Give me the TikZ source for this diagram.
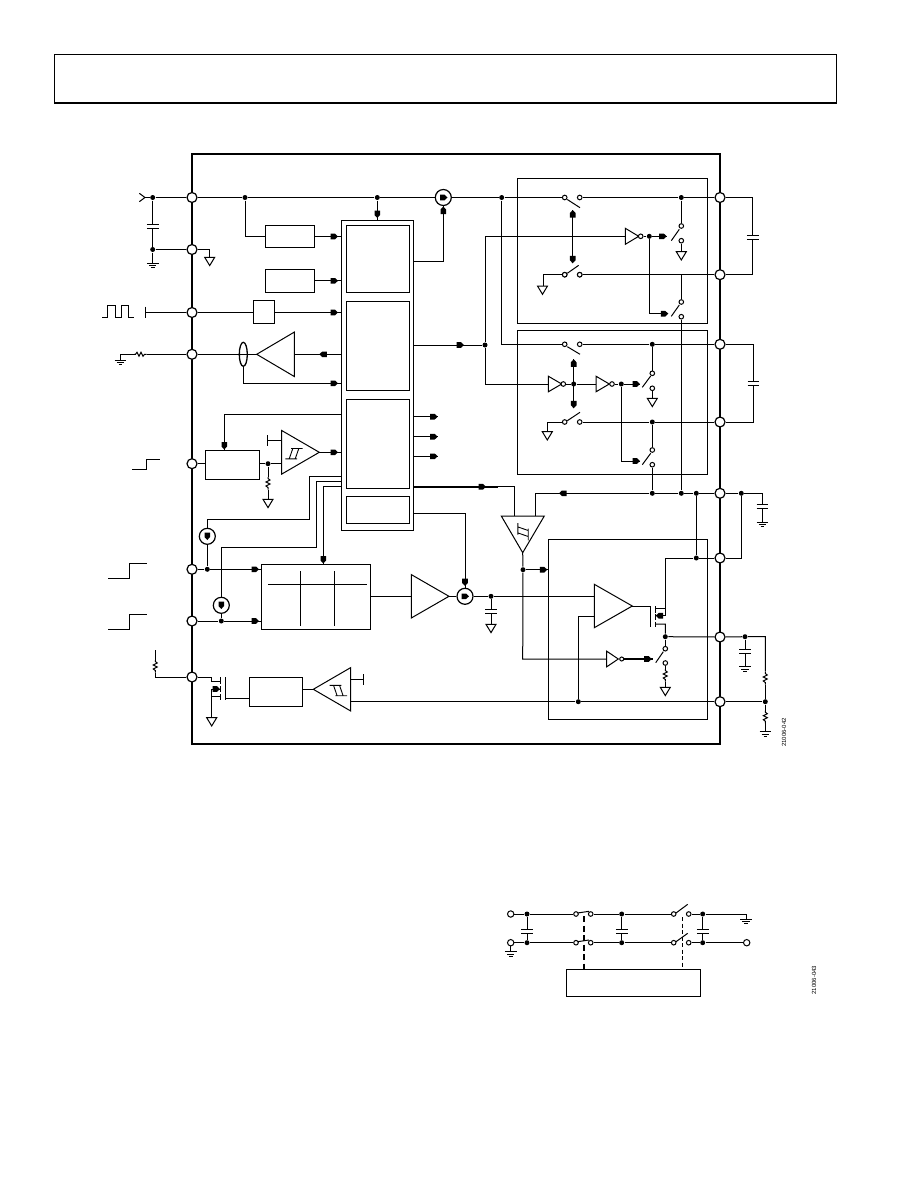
\documentclass[tikz,border=0pt]{standalone}
\usepackage{fontspec}
\setmainfont{Liberation Sans}
\usetikzlibrary{shapes.geometric}
\tikzset{
  pin/.style={draw,circle,fill=white,line width=1.2pt,inner sep=0pt,minimum size=10pt},
  dot/.style={circle,fill=black,inner sep=0pt,minimum size=5pt},
  cont/.style={draw,circle,fill=white,inner sep=0pt,minimum size=4.6pt},
  term/.style={draw,circle,fill=white,inner sep=0pt,minimum size=6.4pt},
  ccs/.style={draw,circle,fill=white,line width=1.2pt,inner sep=0pt,minimum size=16pt},
  blk/.style={draw,rectangle,inner sep=0pt,outer sep=0pt},
  tag/.style={rotate=90,inner sep=0pt,font=\fontsize{6}{7}\selectfont}
}
\newcommand{\head}[2]{\fill[shift={(#1)},rotate=#2] (0,0) -- (-3,-2.8) -- (-7.5,-2.8) -- (-7.5,2.8) -- (-3,2.8) -- cycle;}
\newcommand{\tri}[4]{\draw[fill=white] (#1,#2) -- ++(#3,-#4) -- ++(0,2*#4) -- cycle;}
\newcommand{\gnd}[2]{\coordinate (#1) at (#2);\draw[shift={(#2)}] (-5.8,0) -- (5.8,0) (-3.6,2.4) -- (3.6,2.4) (-1.8,4.6) -- (1.8,4.6);}
\newcommand{\sgnd}[2]{\coordinate (#1) at (#2);\draw[shift={(#2)}] (-5,0) -- (5,0) -- (0,8.3) -- cycle;}
\newcommand{\capv}[2]{\path (#2) coordinate (#1t) ++(0,4.2) coordinate (#1b);\draw[shift={(#2)}] (-5.8,0) -- (5.8,0) (-5.8,4.2) -- (5.8,4.2);}
\newcommand{\resh}[2]{\path (#2) coordinate (#1t) ++(12.7,0) coordinate (#1b);\draw[shift={(#2)}] (0,0) -- (1.5,0) -- (3,-2) -- (5,2) -- (7,-2) -- (9,2) -- (10.5,0) -- (12.7,0);}
\newcommand{\resv}[2]{\path (#2) coordinate (#1t) ++(0,12.7) coordinate (#1b);\draw[shift={(#2)},rotate=-90] (0,0) -- (1.5,0) -- (3,-2) -- (5,2) -- (7,-2) -- (9,2) -- (10.5,0) -- (12.7,0);}
\newcommand{\hyst}[2]{\draw[shift={(#1)},#2] (-8.7,5.2) -- (3,5.2) (-3,-5.2) -- (8.7,-5.2) (-4.8,5.2) -- (-1.2,-5.2) (1.2,5.2) -- (4.8,-5.2);}
\begin{document}
\begin{tikzpicture}[x=1pt,y=-1pt,line width=1pt]
\path[use as bounding box] (0,0) rectangle (918,1188);
\draw (54.3,103.3) -- (54.3,54.3) -- (836.3,54.3) -- (836.3,103.3);
\draw[line width=2pt] (54,103.3) -- (836.6,103.3);
\node[blk,line width=1.8pt,minimum width=528.3pt,minimum height=590pt] (frame) at (455.85,449) {};

\node[blk,minimum width=72pt,minimum height=309.7pt] (core) at (377.3,375.15) {};
\node[blk,minimum width=63pt,minimum height=67pt] (coreA) at (377.8,258.8) {};
\node[blk,minimum width=63pt,minimum height=89pt] (coreB) at (377.8,345.8) {};
\node[blk,minimum width=63pt,minimum height=89pt] (coreC) at (377.8,443.8) {};
\node[blk,minimum width=63pt,minimum height=27pt] (coreD) at (377.8,509.8) {};
\node[blk,minimum width=49.4pt,minimum height=22.4pt] (boxReg) at (290,236.5) {};
\node[blk,minimum width=49.4pt,minimum height=23pt] (boxRef) at (290,280.8) {};
\node[blk,minimum width=21pt,minimum height=23.4pt] (boxOsc) at (263.8,312) {};
\node[blk,minimum width=54pt,minimum height=29pt] (boxTrk) at (232.3,464.8) {};
\node[blk,minimum width=109.4pt,minimum height=65.3pt] (boxDac) at (316,596.65) {};
\node[blk,minimum width=53.4pt,minimum height=29.4pt] (boxDrv) at (276,692) {};
\node[blk,minimum width=190pt,minimum height=145pt] (blkA) at (612.3,250.8) {};
\node[blk,minimum width=190pt,minimum height=144pt] (blkB) at (612.3,402.3) {};
\node[blk,minimum width=159pt,minimum height=180pt] (blkC) at (627.8,629.3) {};
\node[blk,minimum width=134.4pt,minimum height=27.4pt] (boxLow) at (633.5,983) {};

\foreach \nm/\yy in {La/197.5,Lb/249.5,Lc/312.5,Ld/354.3,Le/463.7,Lf/569.3,Lg/621,Lh/677}
  \node[pin] (pin\nm) at (192,\yy) {};
\foreach \nm/\yy in {Ra/197.5,Rb/274.7,Rc/344.3,Rd/422,Re/493.3,Rf/558,Rg/637,Rh/701.7}
  \node[pin] (pin\nm) at (720,\yy) {};

\foreach \nm/\xx/\yy in {In/152.7/197.5,Gnd/152.7/249.5,Reg/245/197.5,Top/377.3/197.5,Rail/501.7/197.5,Aa/681.3/197.5,
  Ab/649.3/236.3,Bus/485/345,Ba/652.3/344.3,Bb/573.7/384,Bc/621.3/384,Bd/652.3/422,
  Trk/268/463.7,Sa/207.3/569.3,Sb/221.3/621,Hold/491/596.3,Ea/652.3/493.3,Eb/681.3/493.3,Ec/696.3/493.3,Ed/741.3/493.3,
  Fa/696.3/558,Cmp/523/569.7,Out/665.3/636.7,Oa/745/636.7,Fb/578.3/701.7,Fc/765.3/701.7}
  \node[dot] (dot\nm) at (\xx,\yy) {};
\foreach \nm/\xx/\yy in {Aa/564.7/197.5,Ab/579.7/197.5,Ac/681.3/226,Ad/681.3/240.7,Ae/564.7/274.7,Af/579.7/274.7,Ag/681.3/302,Ah/681.3/316.7,
  Ba/564.7/344.3,Bb/579.7/344.3,Bc/652.3/373.3,Bd/652.3/388.3,Be/564.7/422,Bf/579.7/422,Bg/652.3/450,Bh/652.3/464.7,
  Ca/665.3/648.7,Cb/665.3/663}
  \node[cont] (cont\nm) at (\xx,\yy) {};
\node[ccs] (ccsTop) at (443.3,197.5) {};
\node[ccs] (ccsA) at (207.3,536.3) {};
\node[ccs] (ccsB) at (221.3,605.3) {};
\node[ccs] (ccsC) at (465,596.3) {};
\head{447.5,197.5}{0}
\head{207.3,540}{270}
\head{221.3,609}{270}
\head{469,596.3}{0}

\coordinate (inTip) at (145,197.5);
\draw (139.3,193.3) -- (inTip) -- (139.3,201.7);
\draw (inTip) -- (dotIn) -- (pinLa) -- (dotReg) -- (dotTop) -- (ccsTop) -- (dotRail) -- (contAa);
\draw (contAb) -- (dotAa) -- (pinRa);
\capv{capIn}{152.7,224.7}
\gnd{gndIn}{152.7,263.3}
\draw (dotIn) -- (capInt) (capInb) -- (dotGnd) -- (gndIn) (dotGnd) -- (pinLb);
\sgnd{gndLb}{209.7,257.3}
\draw (pinLb) -| (gndLb);
\draw (dotReg) |- (boxReg.west);
\draw (boxReg.east) -- (boxReg.east -| core.west);
\head{338,236.5}{0}
\draw (boxRef.east) -- (boxRef.east -| core.west);
\head{338,280.8}{0}
\draw (dotTop) -- (dotTop |- core.north);
\head{377.3,218}{270}
\draw (102.3,317.3) -- (107.3,317.3) -- (107.3,305.3) -- (115,305.3) -- (115,317.3) -- (121,317.3) -- (121,305.3) -- (128.3,305.3) -- (128.3,317.3) -- (133.7,317.3);
\coordinate (clkEnd) at (145.7,312.5);
\draw (145.7,306.7) -- (145.7,318) (clkEnd) -- (pinLc) -- (pinLc -| boxOsc.west);
\draw (pinLc -| boxOsc.east) -- (pinLc -| core.west);
\head{338,312.5}{0}

\gnd{gndRt}{120.3,360}
\resh{resRt}{134,354.3}
\draw (gndRt) |- (resRtt) (resRtb) -- (pinLd);
\node[draw,ellipse,inner sep=0pt,line width=1.3pt,minimum width=8pt,minimum height=24pt] (sense) at (243.3,354.3) {};
\coordinate (ampRt) at (256.7,354.3);
\draw (pinLd) -- (ampRt);
\tri{256.7}{354.3}{37.6}{22.2}
\draw (294.3,354.3) -- (core.west |- pinLd);
\head{319.3,354.3}{180}
\draw (sense.south) |- (341.3,383.3);
\head{338,383.3}{0}

\draw (341.3,414.3) -| (boxTrk.north -| 224.3,450);
\head{224.3,449.5}{270}
\draw (pinLe) -- (pinLe -| boxTrk.west);
\draw (pinLe -| boxTrk.east) -- (dotTrk) -- (281.7,463.7);
\tri{319.3}{452.3}{-37.6}{21.8}
\hyst{294,453.7}{line width=.9pt}
\draw (281.7,440.3) -- (267.3,440.3) (267.3,435) -- (267.3,445.7);
\draw (319.3,452.3) -- (341.3,452.3);
\head{338,452.3}{0}
\resv{resTrk}{268,477}
\sgnd{gndTrk}{268,499.3}
\draw (dotTrk) -- (resTrkt) (resTrkb) -- (gndTrk);

\draw (132.3,469.3) -- (146.7,469.3) -- (146.7,459.3) -- (160,459.3);
\draw (108,578.3) -- (129.3,578.3) -- (129.3,563.3) -- (147,563.3);
\draw (108,629.3) -- (129.3,629.3) -- (129.3,614.3) -- (147,614.3);

\draw (341.3,476.3) -- (309.7,476.3) -- (309.7,519.3) -| (ccsA);
\draw (341.3,481.3) -- (316.7,481.3) -- (316.7,547.3) -| (ccsB);
\draw (341.3,486.3) -| (323.3,564);
\head{323.3,563.5}{270}
\draw (ccsA) -- (dotSa) (ccsB) -- (dotSb);
\draw (pinLf) -- (dotSa) -- (pinLf -| boxDac.west);
\draw (pinLg) -- (dotSb) -- (pinLg -| boxDac.west);
\head{259,569.3}{0}
\head{259,621}{0}
\draw (268,584.3) -- (366.7,584.3) (300.7,571) -- (300.7,625.7) (334.3,571) -- (334.3,625.7);
\draw (boxDac.east) -- (411.3,596.65);
\tri{449}{596.3}{-37.7}{21.7}
\draw (449,596.3) -- (ccsC);
\draw (ccsC) -- (dotHold) -- (594.3,596.3);
\capv{capHold}{491,609.3}
\sgnd{gndHold}{491,624.3}
\draw (dotHold) -- (capHoldt) (capHoldb) -- (gndHold);
\draw (413.3,513.3) -| (ccsC);
\head{465,586}{270}

\draw[line width=1.6pt] (413.3,486.7) -- (498,486.7);
\head{486,486.7}{0}
\draw (498,486.7) -- (514.3,486.7) -- (514.3,516);
\draw[fill=white] (501.3,516) -- (544.3,516) -- (522.7,552.7) -- cycle;
\hyst{523,531.7}{rotate=90,line width=.9pt}
\draw (535.3,516) |- (dotEa);
\head{559,493.3}{180}
\draw (dotEa) -- (dotEb) -- (dotEc) -- (pinRe) -- (dotEd) -- (762.3,493.3);
\capv{capEe}{762.3,504}
\gnd{gndEe}{762.3,522}
\draw (762.3,493.3) -- (capEet) (capEeb) -- (gndEe);
\draw (dotEd) |- (pinRf);
\draw (dotEc) -- (dotFa);
\draw (pinRf) -- (dotFa) -| (665.3,615.7);
\draw (522.7,552.7) -- (dotCmp) -- (522.7,659) -- (606.7,659);
\draw (dotCmp) -- (548.3,569.7);
\head{547.3,569.7}{0}

\tri{632.3}{606}{-38}{21.7}
\draw (632.3,606) -- (650.7,606);
\draw (650.7,606) -- (650.7,626.7);
\draw (655.7,606) -- (655.7,612.7) (655.7,614.3) -- (655.7,619.7) (655.7,621.5) -- (655.7,627);
\draw (655.7,608.3) -- (665.3,608.3) (665.3,615.7) -- (655.7,615.7);
\head{655.7,615.7}{180}
\draw (655.7,624) -- (665.3,624) -- (dotOut) -- (pinRg);
\draw (dotOut) -- (contCa) (contCb) -- (665.3,670);
\draw (655.7,662.7) -- (663.3,651.7);
\resv{resOut}{665.3,669}
\sgnd{gndOut}{665.3,687.3}
\draw (resOutb) -- (gndOut);
\tri{618.3}{659}{-11.6}{7.8}
\node[cont,minimum size=4pt] (bubC) at (621.7,659) {};
\draw[line width=1.6pt] (bubC) -- (653.3,659);
\head{651.7,659}{0}
\draw (594.3,616) -- (578.3,616) -- (dotFb);
\draw (350.7,701.7) -- (dotFb) -- (pinRh) -- (dotFc);
\draw (pinRg) -- (dotOa) -- (765.3,636.7) -- (765.3,671.7);
\capv{capOa}{745,649.3}
\gnd{gndOa}{745,666.7}
\draw (dotOa) -- (capOat) (capOab) -- (gndOa);
\resv{resFa}{765.3,672}
\draw (resFab) -- (dotFc) -- (765.3,710.7);
\resv{resFb}{765.3,710.7}
\gnd{gndFc}{765.3,731.7}
\draw (resFbb) -- (gndFc);

\resv{resPu}{155.3,660}
\draw (155.3,650) -- (resPut) (resPub) |- (pinLh);
\draw (pinLh) -- (211.7,677) -- (211.7,681.7) -- (220,681.7);
\draw (220,677.3) -- (220,684) (220,686) -- (220,692) (220,694) -- (220,700);
\draw (225.3,677.3) -- (225.3,700);
\draw (225.3,698.3) -- (boxDrv.west |- 0,698.3);
\draw (211.7,689) -- (220,689);
\head{220,689}{0}
\sgnd{gndPu}{211.7,717.7}
\draw (220,696) -- (211.7,696) (211.7,689) -- (gndPu);
\draw (boxDrv.east |- 0,689.3) -- (313.3,689.3);
\tri{313.3}{689.3}{37.4}{21.7}
\hyst{338.3,690.5}{yscale=-1,line width=.9pt}
\draw (350.7,679.3) -- (363.3,679.3) (363.3,674) -- (363.3,685);

\draw (coreA.east -| core.east) ++(0,2.5) -- (443.3,261.3) -- (ccsTop);
\head{443.3,206.5}{90}
\draw (413.3,345) -- (dotBus);
\head{464,345}{0}
\draw (dotBus) |- (548.3,384);
\draw (dotBus) |- (625.3,236.3);
\draw (dotRail) |- (contBa);
\draw (contBb) -- (dotBa) -- (pinRc);
\foreach \yy in {416.7,436.7,456.3} {
  \draw (413.3,\yy) -- (437.7,\yy);
  \head{437.7,\yy}{0}
}

\draw (567.3,199.5) -- (580,207.7);
\draw (dotAa) -- (contAc) (contAd) -- (681.3,251.7);
\sgnd{gndAa}{681.3,251.7}
\draw (671.3,240.7) -- (679.3,229.3);
\tri{638.7}{236.3}{-13.4}{8}
\node[cont] (bubAa) at (640.7,236.3) {};
\draw (bubAa) -- (dotAb) -- (666.7,236.3);
\head{666.7,236.3}{0}
\draw (dotAb) |- (668.3,313.7);
\head{668.3,313.7}{0}
\draw (contAf) -- (pinRb);
\draw (681.3,274.7) -- (contAg) (contAh) -- (dotEb);
\draw (671.3,316.3) -- (679.3,305);
\draw (572.7,210) -- (572.7,263.3);
\head{572.7,210}{90}
\head{572.7,263.3}{270}
\draw (567.3,273.3) -- (578.7,265.3);
\draw (contAe) -| (543.3,286);
\sgnd{gndAe}{542.5,286}
\node[cont] at (contAe) {};
\node[cont] at (contAf) {};

\draw (567.3,346.7) -- (580,354.3);
\draw (dotBa) -- (contBc) (contBd) -- (652.3,398.3);
\sgnd{gndBa}{652.3,398.3}
\draw (642.3,387.3) -- (650.7,376);
\tri{561.7}{384}{-13.4}{7.8}
\node[cont] (bubBa) at (563.3,384) {};
\draw (bubBa) -- (dotBb) -- (596,384);
\tri{609.3}{384}{-13.3}{7.8}
\node[cont] (bubBb) at (612,384) {};
\draw (bubBb) -- (dotBc) -- (640,384);
\head{640,384}{0}
\draw (dotBc) |- (640,461);
\head{640,461}{0}
\draw (573.7,359.3) -- (573.7,408.3);
\head{573.7,359.3}{90}
\head{573.7,408.3}{270}
\draw (567.3,420.7) -- (580,412.3);
\draw (contBe) -| (547.3,431.7);
\sgnd{gndBe}{547.3,431.7}
\draw (contBf) -- (dotBd) -- (pinRd);
\draw (dotBd) -- (contBg) (contBh) -- (dotEa);
\draw (642.3,464.7) -- (650.7,453.3);

\capv{capAb}{752.7,235.7}
\draw (pinRa) -| (capAbt) (capAbb) |- (pinRb);
\capv{capCd}{753.3,381}
\draw (pinRc) -| (capCdt) (capCdb) |- (pinRd);

\node[tag] (tagTop) at (784,732.5) {21006-042};
\node[tag] (tagLow) at (814,980) {21006-043};

\node[term] (termA) at (510.7,914) {};
\node[term] (termB) at (510.7,942.7) {};
\node[term] (termC) at (746.7,942.7) {};
\foreach \nm/\xx/\yy in {La/527/914,Lb/527/942.7,Lc/621.7/914,Ld/621.7/942.7,Le/702.7/914,Lf/702.7/942.7}
  \node[dot] (dot\nm) at (\xx,\yy) {};
\foreach \nm/\xx/\yy in {La/576/914,Lb/590.7/914,Lc/576/942.7,Ld/590.7/942.7,Le/673.7/914,Lf/688.7/914,Lg/673.7/942.7,Lh/688.7/942.7}
  \node[cont] (cont\nm) at (\xx,\yy) {};
\gnd{gndLowA}{510.7,951.7}
\draw (termB) -- (gndLowA);
\gnd{gndLowB}{746,919.3}
\draw (termA) -- (dotLa) -- (contLa) (contLb) -- (dotLc) -- (contLe) (contLf) -- (dotLe) -- (746,914) -- (gndLowB);
\draw (termB) -- (dotLb) -- (contLc) (contLd) -- (dotLd) -- (contLg) (contLh) -- (dotLf) -- (termC);
\foreach \xx/\nm in {527/Aa,621.7/Ab,702.7/Ac}{
  \capv{capL\nm}{\xx,929}
}
\draw (dotLa) -- (capLAat) (capLAab) -- (dotLb);
\draw (dotLc) -- (capLAbt) (capLAbb) -- (dotLd);
\draw (dotLe) -- (capLAct) (capLAcb) -- (dotLf);
\draw (577.5,913) -- (589,911.3) (577.5,941.7) -- (589,940);
\draw (676,913) -- (687.7,904.3) (676,941.7) -- (687.7,933.3);
\draw[line width=1.8pt,dash pattern=on 6pt off 3.5pt] (583.7,916) -- (583.7,916 |- boxLow.north);
\draw[dash pattern=on 4pt off 2.5pt] (682.7,917) -- (682.7,917 |- boxLow.north);
\end{tikzpicture}
\end{document}
